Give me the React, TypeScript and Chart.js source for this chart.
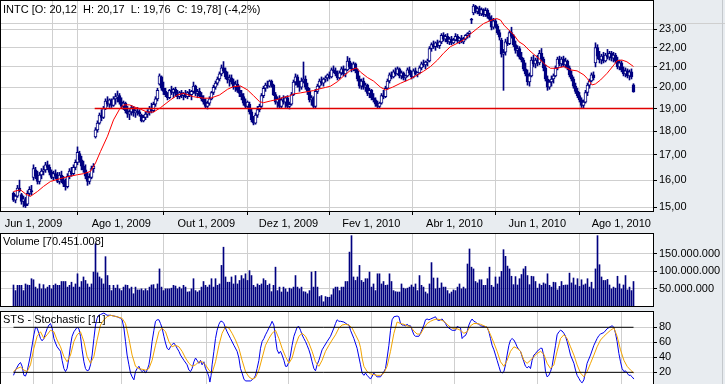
import React, { useEffect, useRef } from "react";
import { Chart, registerables } from "chart.js";

Chart.register(...registerables);

const FONT = '"Liberation Sans", Arial, Helvetica, sans-serif';
const NAVY = "#000080";
const BG = "#E8ECF0";
const GRID = "#CFCFCF";

// ---- axis / category data ----
const monthTickIdx = [10, 53.9, 96.4, 137.5, 178.9, 220.5, 261.9, 303.9];
const monthLabels = ["Jun 1, 2009", "Ago 1, 2009", "Out 1, 2009", "Dez 1, 2009", "Fev 1, 2010", "Abr 1, 2010", "Jun 1, 2010", "Ago 1, 2010"];
const priceTicks = [15, 16, 17, 18, 19, 20, 21, 22, 23];
const volumeTicks = [50000000, 100000000, 150000000];
const stochTicks = [20, 40, 60, 80];

// ---- daily OHLC (bar index 0 = mid May 2009) ----
const opens = [
  15.50,15.25,15.40,15.70,15.45,15.20,15.25,15.10,15.50,15.60,
  16.10,16.40,16.15,15.95,16.20,16.35,16.40,16.60,16.50,16.30,
  16.10,16.25,16.15,15.95,16.20,16.00,15.85,15.75,16.15,16.35,
  16.25,16.50,16.70,17.05,16.80,16.55,16.40,16.15,15.95,16.10,
  16.45,17.75,18.05,18.35,18.70,18.60,19.00,19.35,19.20,19.40,
  19.15,19.45,19.55,19.60,19.30,19.10,19.25,18.90,18.75,18.85,
  19.05,18.80,18.90,18.85,18.70,18.45,18.60,18.75,18.85,19.00,
  18.90,19.20,19.45,20.15,20.50,19.95,19.80,19.65,19.50,19.85,
  19.75,19.90,19.70,19.55,19.75,19.60,19.70,19.55,19.75,19.65,
  19.80,20.05,19.70,19.80,19.60,19.45,19.30,19.10,19.25,19.45,
  19.75,20.00,20.20,20.40,20.65,20.95,20.80,20.50,20.35,20.45,
  20.25,20.00,20.15,19.85,19.70,19.55,19.25,19.10,19.20,18.85,
  18.50,18.35,18.70,18.95,19.10,19.60,19.95,20.10,20.05,20.30,
  20.10,19.65,19.30,19.45,19.10,19.40,19.30,19.50,19.10,19.20,
  19.65,20.25,20.50,20.10,20.00,20.30,20.40,20.00,19.80,19.40,
  19.50,19.10,19.80,20.05,20.30,20.20,20.40,20.45,20.60,20.50,
  20.85,20.80,20.65,20.45,20.70,20.90,20.65,20.85,21.30,21.00,
  20.90,21.15,20.80,20.40,20.05,20.30,20.00,20.10,19.70,19.85,
  19.50,19.40,19.20,19.10,19.25,19.60,19.55,19.95,20.30,20.60,
  20.50,20.75,20.65,20.90,20.55,20.70,20.45,20.55,20.85,20.70,
  20.50,20.80,20.65,20.70,20.95,21.15,21.10,21.25,21.30,21.95,
  22.15,22.05,22.25,22.10,22.30,22.65,22.45,22.60,22.30,22.45,
  22.25,22.40,22.60,22.35,22.50,22.30,22.45,22.65,22.75,23.55,
  23.90,24.30,24.00,24.15,23.85,24.10,23.80,24.05,23.70,23.55,
  23.10,23.45,23.15,22.80,22.40,21.65,21.75,22.30,22.20,22.80,
  22.60,22.15,21.85,21.95,21.50,21.35,20.90,20.65,20.25,20.55,
  21.35,21.15,21.35,21.20,21.70,21.40,20.95,20.40,20.00,20.25,
  20.40,20.55,20.95,21.40,21.15,21.40,21.10,21.30,20.95,20.60,
  20.40,20.05,19.80,19.60,19.40,19.15,19.30,19.75,20.10,20.30,
  20.60,21.20,22.00,21.55,21.35,21.55,21.30,21.60,21.50,21.70,
  21.45,21.60,21.30,21.00,21.20,20.85,20.65,20.80,20.55,20.75,20.12
];
const highs = [
  15.55,15.45,15.80,16.00,15.50,15.40,15.35,15.60,15.75,15.80,
  16.60,16.50,16.35,16.30,16.45,16.55,16.70,16.75,16.60,16.40,
  16.35,16.40,16.30,16.30,16.35,16.15,16.05,16.25,16.45,16.50,
  16.60,16.80,17.33,17.15,16.95,16.75,16.60,16.30,16.25,16.55,
  16.65,18.15,18.45,18.80,18.95,19.10,19.45,19.55,19.45,19.45,
  19.55,19.70,19.82,19.70,19.50,19.35,19.30,19.10,18.95,19.15,
  19.10,18.95,19.05,18.95,18.75,18.70,18.85,18.95,19.10,19.25,
  19.30,19.55,19.95,20.65,20.55,20.25,19.95,19.75,19.90,20.05,
  19.95,20.00,19.85,19.80,19.85,19.75,19.85,19.80,19.90,19.85,
  20.25,20.10,19.90,19.95,19.75,19.60,19.45,19.35,19.55,19.80,
  20.10,20.30,20.50,20.75,21.10,21.27,20.95,20.75,20.60,20.60,
  20.40,20.30,20.35,20.05,19.85,19.70,19.45,19.35,19.30,19.00,
  18.65,18.80,19.10,19.20,19.70,20.05,20.20,20.30,20.35,20.35,
  20.15,19.75,19.55,19.60,19.50,19.60,19.55,19.60,19.30,19.75,
  20.35,20.65,20.60,20.30,20.45,21.25,20.55,20.20,19.95,19.60,
  19.55,19.90,20.15,20.40,20.50,20.45,20.55,20.65,20.75,20.95,
  21.05,20.95,20.80,20.80,21.00,21.05,20.90,21.53,21.45,21.20,
  21.25,21.20,20.90,20.55,20.40,20.45,20.20,20.15,19.95,19.90,
  19.70,19.50,19.35,19.30,19.70,19.85,20.05,20.40,20.70,20.75,
  20.85,20.95,21.00,20.95,20.80,20.75,20.60,20.95,21.00,20.80,
  20.90,20.95,20.75,21.05,21.25,21.35,21.30,21.40,22.05,22.25,
  22.35,22.30,22.40,22.35,22.75,22.80,22.70,22.75,22.55,22.60,
  22.50,22.75,22.70,22.55,22.65,22.55,22.70,22.80,22.90,23.60,
  24.40,24.35,24.25,24.30,24.20,24.15,24.20,24.15,23.90,23.75,
  23.60,23.55,23.25,22.95,22.50,21.90,22.45,22.55,22.90,23.10,
  22.70,22.35,22.10,22.05,21.75,21.45,21.20,20.85,20.70,21.50,
  21.60,21.45,21.60,21.85,21.95,21.50,21.10,20.55,20.35,20.55,
  20.65,21.05,21.50,21.55,21.50,21.55,21.45,21.35,21.05,20.80,
  20.50,20.20,19.95,19.75,19.50,19.40,19.85,20.20,20.40,20.70,
  20.75,22.25,22.15,21.80,21.65,21.75,21.70,21.90,21.80,21.80,
  21.75,21.70,21.50,21.35,21.30,21.00,20.95,20.90,20.85,20.90,20.17
];
const lows = [
  15.20,15.15,15.35,15.55,15.10,15.00,14.98,15.05,15.40,15.45,
  16.00,16.05,15.85,15.85,16.05,16.20,16.30,16.40,16.20,16.05,
  16.00,16.05,15.90,15.85,15.90,15.75,15.62,15.70,16.05,16.15,
  16.20,16.40,16.60,16.70,16.40,16.30,16.05,15.80,15.85,16.05,
  16.30,17.70,17.95,18.30,18.45,18.55,18.95,19.10,19.05,19.05,
  19.10,19.20,19.30,19.20,19.00,18.95,18.80,18.60,18.50,18.70,
  18.65,18.60,18.70,18.65,18.40,18.40,18.50,18.60,18.70,18.80,
  18.85,19.10,19.35,20.10,19.85,19.65,19.55,19.40,19.45,19.65,
  19.50,19.60,19.45,19.45,19.50,19.40,19.50,19.45,19.55,19.40,
  19.70,19.60,19.50,19.55,19.35,19.20,19.00,18.98,19.15,19.40,
  19.65,19.90,20.10,20.30,20.55,20.70,20.40,20.20,20.05,20.15,
  19.90,19.80,19.75,19.55,19.40,19.15,19.02,19.00,18.75,18.40,
  18.27,18.30,18.60,18.85,19.05,19.50,19.80,19.95,20.00,20.00,
  19.60,19.20,19.05,19.00,19.02,19.20,19.05,19.00,18.98,19.15,
  19.60,20.10,20.00,19.80,19.90,20.20,19.90,19.65,19.30,19.15,
  19.00,19.02,19.70,19.95,20.10,20.05,20.25,20.30,20.40,20.45,
  20.70,20.55,20.35,20.40,20.60,20.55,20.50,20.80,20.90,20.75,
  20.80,20.70,20.30,19.95,19.90,19.90,19.80,19.60,19.50,19.40,
  19.30,19.10,19.02,19.00,19.20,19.45,19.50,19.90,20.20,20.40,
  20.45,20.55,20.60,20.45,20.40,20.35,20.30,20.50,20.60,20.40,
  20.45,20.60,20.50,20.65,20.85,21.00,20.90,21.05,21.25,21.80,
  21.95,21.85,22.00,21.95,22.20,22.35,22.30,22.20,22.15,22.15,
  22.20,22.35,22.25,22.20,22.25,22.20,22.40,22.50,22.55,23.30,
  23.80,23.90,23.85,23.75,23.75,23.70,23.70,23.60,23.45,22.95,
  23.00,23.05,22.70,22.40,21.50,19.85,21.60,22.10,22.15,22.50,
  22.05,21.70,21.55,21.40,21.25,20.80,20.55,20.10,20.05,20.50,
  21.00,20.95,21.05,21.10,21.30,20.80,20.30,19.85,19.90,20.05,
  20.20,20.50,20.85,21.05,21.00,21.00,20.95,20.85,20.50,20.30,
  19.95,19.70,19.50,19.30,19.05,19.02,19.25,19.60,19.95,20.25,
  20.35,21.00,21.40,21.20,21.15,21.20,21.25,21.40,21.35,21.30,
  21.25,21.20,20.90,20.85,20.75,20.55,20.50,20.45,20.35,20.40,19.76
];
const closes = [
  15.25,15.40,15.70,15.60,15.20,15.30,15.05,15.50,15.65,15.55,
  16.45,16.15,15.95,16.20,16.35,16.40,16.60,16.50,16.30,16.10,
  16.25,16.15,15.95,16.20,16.00,15.85,15.75,16.15,16.35,16.25,
  16.50,16.70,17.10,16.80,16.55,16.40,16.15,15.95,16.10,16.45,
  16.55,18.05,18.35,18.70,18.60,19.00,19.35,19.20,19.40,19.15,
  19.45,19.55,19.60,19.30,19.10,19.25,18.90,18.75,18.85,19.05,
  18.80,18.90,18.85,18.75,18.45,18.60,18.75,18.85,19.00,18.90,
  19.20,19.45,19.85,20.55,19.95,19.80,19.65,19.50,19.85,19.75,
  19.90,19.70,19.55,19.75,19.60,19.70,19.55,19.75,19.65,19.80,
  20.05,19.70,19.80,19.60,19.45,19.30,19.10,19.25,19.45,19.75,
  20.00,20.20,20.40,20.65,20.95,20.80,20.50,20.35,20.45,20.25,
  20.00,20.15,19.85,19.70,19.55,19.25,19.10,19.30,18.85,18.50,
  18.35,18.70,18.95,19.10,19.60,19.95,20.10,20.05,20.30,20.10,
  19.65,19.30,19.45,19.10,19.40,19.30,19.50,19.10,19.20,19.65,
  20.25,20.50,20.10,20.00,20.30,20.40,20.00,19.80,19.40,19.50,
  19.10,19.80,20.05,20.30,20.20,20.40,20.45,20.60,20.50,20.85,
  20.80,20.65,20.45,20.70,20.90,20.65,20.85,21.30,21.00,20.90,
  21.15,20.80,20.40,20.05,20.30,20.00,20.10,19.70,19.85,19.50,
  19.40,19.20,19.10,19.25,19.60,19.55,19.95,20.30,20.60,20.50,
  20.75,20.65,20.90,20.55,20.70,20.45,20.55,20.85,20.70,20.50,
  20.80,20.65,20.70,20.95,21.15,21.10,21.25,21.30,21.95,22.15,
  22.05,22.25,22.10,22.30,22.65,22.45,22.60,22.30,22.45,22.25,
  22.40,22.60,22.35,22.50,22.30,22.45,22.65,22.75,22.85,23.50,
  24.30,24.00,24.15,23.85,24.10,23.80,24.05,23.70,23.55,23.10,
  23.45,23.15,22.80,22.55,21.65,21.75,22.30,22.20,22.80,22.60,
  22.15,21.85,21.95,21.50,21.35,20.90,20.65,20.25,20.55,21.35,
  21.15,21.35,21.20,21.70,21.40,20.95,20.40,20.00,20.25,20.40,
  20.55,20.95,21.40,21.15,21.40,21.10,21.30,20.95,20.60,20.40,
  20.05,19.80,19.60,19.40,19.15,19.30,19.75,20.10,20.30,20.60,
  20.45,22.00,21.55,21.35,21.55,21.30,21.60,21.50,21.70,21.45,
  21.60,21.30,21.00,21.20,20.85,20.65,20.80,20.55,20.75,20.50,19.78
];

// ---- volume, millions of shares ----
const volumesM = [
  60,44,59,59,59,44,63,60,59,78,
  75,54,49,63,49,61,49,54,59,49,
  59,63,59,59,70,70,70,54,59,68,
  54,63,92,54,70,83,73,63,54,63,
  97,178,95,83,78,63,141,87,59,44,
  59,51,60,49,44,54,60,59,49,54,
  35,54,46,46,49,44,49,44,54,60,
  61,49,63,106,54,44,49,49,49,51,
  59,57,49,54,49,59,54,40,41,49,
  78,44,40,44,54,70,59,54,60,78,
  54,78,59,63,116,168,83,68,68,83,
  63,87,63,73,87,78,92,73,101,87,
  59,54,63,59,63,78,73,59,63,41,
  59,111,44,54,40,54,49,40,51,49,
  54,87,54,49,54,41,40,35,44,97,
  54,99,54,27,30,12,27,25,25,32,
  49,54,54,44,54,54,70,70,154,201,
  83,73,83,116,73,68,78,78,97,54,
  63,44,92,92,63,70,59,60,92,70,
  44,41,40,40,63,51,49,51,54,60,
  54,63,44,87,59,54,40,35,63,124,
  80,49,80,51,66,54,54,44,35,40,
  46,44,54,63,49,54,49,120,163,111,
  106,70,66,75,75,59,59,78,111,59,
  54,83,63,83,99,161,142,114,106,85,
  61,84,60,78,90,106,113,87,61,85,
  84,70,51,63,59,66,63,92,59,54,
  68,67,46,56,70,59,60,60,94,66,
  80,60,78,56,75,60,63,78,54,68,
  49,106,201,118,83,73,73,76,60,49,
  54,51,85,63,49,60,87,46,54,44,70
];

// ---- moving average [bar index, price] ----
const maPoints = [
  [0,15.57],[3.5,15.63],[6,15.48],[8.5,15.39],[12,15.57],[15,15.76],[18.5,15.95],[23,16.05],[27,16.13],[32,16.21],
  [35,16.25],[38.5,16.34],[41,16.67],[43.5,17.14],[47,17.78],[50,18.49],[53,18.97],[55,19.17],[58,19.17],[60,19.09],
  [63.5,18.97],[67,18.84],[70,18.84],[73.5,19.04],[78.5,19.40],[82,19.63],[85,19.71],[90,19.55],[95,19.48],[98.5,19.48],
  [103,19.63],[107,19.90],[110,20.03],[113.5,20.06],[117,19.87],[120,19.60],[123,19.32],[125,19.27],[128.5,19.35],[132,19.42],
  [135,19.52],[138,19.58],[140,19.68],[143.5,19.73],[147,19.79],[150,19.84],[153,19.92],[156,19.99],[158.5,20.05],[162,20.27],
  [165,20.54],[168.5,20.83],[171.5,20.95],[173.5,20.74],[177,20.47],[180,20.30],[183.5,20.00],[186,19.87],[189.5,20.00],[193.5,20.19],
  [198,20.38],[202,20.60],[205,20.78],[208.5,21.02],[212,21.35],[215,21.70],[218.5,22.05],[222,22.23],[225,22.40],[228.5,22.73],
  [232,23.04],[235,23.30],[238,23.45],[241.5,23.59],[243.5,23.50],[245.2,23.22],[247.7,22.94],[250.2,22.67],[252.7,22.31],[255.2,22.14],
  [257.7,21.87],[260.2,21.64],[262.7,21.43],[266,21.10],[268.5,20.93],[271.8,20.93],[275.2,21.02],[278.5,20.85],[281.8,20.80],[285.2,20.60],
  [286.8,20.43],[289.3,20.11],[291,20.16],[293.5,20.35],[296.8,20.68],[300.2,21.10],[301.8,21.31],[304.2,21.35],[306.7,21.26],[310,21.02]
];

// ---- stochastic %K and %D [bar index, value] ----
const stochK = [
  [0,16],[1,23],[2.7,31],[3.5,33],[4.3,28],[5.2,16],[6,15],[6.8,21],[8.5,43],[10.2,70],[11,80],[11.8,79],[12.7,72],[13.5,65],[14.3,62],
  [15.2,65],[16,72],[16.8,78],[17.7,83],[18.5,85],[19.3,79],[20.2,65],[21,59],[21.8,54],[23.5,48],[24.3,36],[25.2,25],[26,21],[26.8,25],
  [27.7,39],[28.5,56],[29.3,68],[30.2,74],[31.8,80],[32.7,78],[33.5,68],[34.3,50],[35.2,34],[36,25],[36.8,22],[37.7,23],[38.5,30],[39.3,43],
  [40.2,65],[41,83],[41.8,92],[42.7,96],[43.5,97],[45.2,99],[46.8,96],[48.5,96],[50.2,95],[51.8,94],[53.5,92],[54.3,90],[55.2,79],[56,61],
  [56.8,43],[57.7,30],[58.5,19],[59.3,14],[60.2,10],[61,21],[61.8,25],[62.7,28],[63.5,23],[64.3,21],[65.2,23],[66,19],[66.8,23],[67.7,30],
  [68.5,43],[69.3,61],[70.2,76],[71,88],[71.8,90],[72.7,90],[73.5,85],[74.3,79],[75.2,68],[76,59],[76.8,52],[77.7,50],[78.5,54],[79.3,57],
  [80.2,59],[81,56],[81.8,52],[82.7,48],[83.5,43],[85.2,36],[86.8,30],[87.7,23],[88.5,21],[89.3,25],[90.2,34],[91,39],[91.8,36],[92.7,32],
  [93.5,36],[94.3,30],[95.2,34],[96,25],[96.8,21],[97.7,14],[98.2,7],[98.8,16],[99.3,30],[100.2,48],[101,65],[101.8,76],[102.7,84],[103.5,88],
  [104.3,88],[105.2,85],[106,79],[106.8,74],[108.5,65],[110.2,56],[111.8,48],[112.7,39],[113.5,25],[114.3,19],[115.2,11],[116,8.5],[118.5,8.5],
  [119.3,10],[120.2,12],[121,16],[121.8,25],[122.7,36],[123.5,52],[124.3,61],[125.2,65],[126,70],[126.8,74],[127.7,79],[128.5,83],[129.3,88],
  [130.2,83],[131,65],[131.8,50],[132.7,45],[133.5,48],[134.3,43],[135.2,36],[136,28],[136.8,28],[137.7,34],[138.5,43],[139.3,56],[140.2,68],
  [141,74],[141.8,80],[142.7,81],[143.5,76],[144.3,70],[145.2,65],[146,61],[146.8,56],[147.7,50],[148.5,43],[149.3,34],[150.2,25],[151,22],
  [151.8,30],[152.7,36],[153.5,43],[154.3,50],[155.2,54],[156.8,61],[158.5,68],[160.2,79],[161,85],[161.8,90],[162.7,88],[163.5,88],[165.2,87],
  [166.8,84],[167.7,83],[168.5,76],[170.2,65],[171.8,52],[173.5,30],[174.3,19],[175.2,16],[176,19],[176.8,16],[178.5,11],[180.2,19],[181,16],
  [181.8,14],[183.5,14],[185.2,21],[186,25],[186.8,39],[187.7,56],[188.5,76],[189.3,90],[190.2,94],[191.8,95],[192.7,94],[193.5,85],[194.3,83],
  [195.2,83],[196,82],[196.8,84],[197.7,82],[198.5,82],[200.2,70],[201,68],[202.7,68],[203.5,72],[205.2,83],[206,90],[206.8,91],[207.7,90],
  [208.5,91],[210.2,93],[211,94],[211.8,90],[212.7,89],[213.5,90],[214.3,91],[215.2,88],[216,85],[216.8,81],[217.7,79],[219.3,76],[221,76],
  [221.8,81],[222.7,80],[223.5,79],[224.3,65],[225.2,68],[226,69],[226.8,74],[227.7,83],[228.5,88],[229.3,91],[230.2,88],[231,87],[231.8,85],
  [232.7,84],[233.5,82],[235.2,81],[236,81],[236.8,80],[237.7,74],[238.5,65],[239.3,56],[240.2,50],[241,43],[241.8,36],[242.7,28],[243.5,21],
  [244.3,19],[245.2,21],[246,30],[246.8,43],[247.7,56],[248.5,63],[249.3,65],[250.2,63],[251,59],[251.8,54],[252.7,50],[253.5,48],[254.3,41],
  [255.2,34],[256,28],[256.8,26],[257.7,28],[258.5,25],[259.3,36],[260.2,43],[261,45],[261.8,48],[262.7,50],[263.5,52],[264.3,52],[265.2,41],
  [266,21],[266.8,14],[267.7,16],[268.5,21],[269.3,28],[270.2,43],[271,56],[271.8,70],[272.7,74],[273.5,76],[274.3,75],[275.2,72],[276,68],
  [276.8,61],[277.7,52],[278.5,43],[280.2,32],[281,23],[281.8,16],[282.7,12],[283.5,8],[284.3,6],[285.2,10],[286,21],[286.8,32],[288.5,43],
  [290.2,56],[291.8,65],[292.7,69],[293.5,71],[295.2,73],[296.8,78],[298.5,81],[299.3,82],[300.2,80],[301,72],[301.8,61],[302.7,45],[303.5,34],
  [304.3,25],[305.2,21],[306,22],[306.8,19],[307.7,16],[308.5,16],[309.3,14],[310.2,11]
];
const stochD = [
  [0,21],[1.8,25],[3.5,27],[5.2,23],[6.8,21],[8.5,30],[10.2,52],[11.8,68],[13.5,74],[15.2,65],[16.8,70],[18.5,76],[20.2,74],[21.8,63],
  [23.5,54],[25.2,41],[26.8,34],[28.5,43],[30.2,61],[31.8,70],[33.5,74],[35.2,61],[36.8,41],[38.5,32],[40.2,41],[41.8,63],[43.5,83],[45.2,90],
  [46.8,94],[48.5,96],[51.8,94],[54.3,92],[56,85],[57.7,65],[59.3,43],[61,28],[62.7,25],[64.3,24],[66,23],[67.7,25],[69.3,36],[71,56],
  [72.7,74],[74.3,79],[76,74],[77.7,61],[79.3,54],[81,56],[82.7,54],[84.3,48],[86,39],[87.7,32],[89.3,28],[91,30],[92.7,34],[94.3,34],
  [96,30],[97.7,23],[99.3,19],[101,34],[102.7,56],[104.3,72],[106,81],[107.7,79],[109.3,72],[111,63],[112.7,52],[114.3,36],[116,21],[117.7,14],
  [119.3,11],[121,13],[122.7,23],[124.3,39],[126,56],[127.7,65],[129.3,72],[131,76],[132.7,65],[134.3,52],[136,41],[137.7,32],[139.3,39],
  [141,56],[142.7,68],[144.3,72],[146,68],[147.7,59],[149.3,48],[151,34],[152.7,28],[154.3,36],[156,48],[157.7,56],[159.3,63],[161,70],
  [162.7,79],[164.3,83],[166,84],[167.7,83],[169.3,79],[171,70],[172.7,61],[173.5,53],[174.3,39],[175.2,28],[176.8,21],[178.5,18],[180.2,17],
  [181.8,16],[183.5,16],[185.2,19],[186.8,28],[188.5,48],[190.2,72],[191.8,87],[193.5,85],[195.2,84],[196.8,82],[198.5,81],[200.2,75],
  [201.8,71],[203.5,71],[205.2,79],[206.8,85],[208.5,88],[210.2,90],[211.8,91],[213.5,90],[215.2,88],[216.8,84],[218.5,80],[220.2,78],
  [221.8,78],[223.5,76],[225.2,72],[226.8,74],[228.5,82],[230.2,85],[231.8,85],[233.5,84],[235.2,82],[236.8,80],[238.5,70],[240.2,59],
  [241.8,48],[243.5,34],[245.2,28],[246.8,36],[248.5,48],[250.2,54],[251.8,52],[253.5,48],[255.2,36],[256.8,32],[258.5,36],[260.2,41],
  [261.8,45],[263.5,48],[265.2,44],[266.8,32],[268.5,25],[270.2,30],[271.8,48],[273.5,65],[275.2,70],[276.8,65],[278.5,54],[280.2,43],
  [281.8,30],[283.5,19],[285.2,14],[286.8,21],[288.5,32],[290.2,43],[291.8,54],[293.5,63],[295.2,68],[296.8,72],[298.5,76],[300.2,79],
  [301.8,68],[303.5,50],[305.2,36],[306.8,28],[308.5,23],[310.2,19]
];

const supportLevel = 19;
const supportStartIdx = 40.6;
const stochUpper = 80;
const stochLower = 20;
const crosshairIdx = 19;
const crosshairPrice = 23.33;

const titleMain = "INTC [O: 20,12  H: 20,17  L: 19,76  C: 19,78] (-4,2%)";
const titleVolume = "Volume [70.451.008]";
const titleStoch = "STS - Stochastic [11]";

// ---- layout constants ----
const X_MIN = -6.25;
const X_MAX = 319.75;
const AXIS_W = 72;

Chart.defaults.font.family = FONT;
Chart.defaults.font.size = 11;
Chart.defaults.color = "#000";

const fmtDots = (v: number) => String(Math.round(v)).replace(/\B(?=(\d{3})+(?!\d))/g, ".");

function panelPlugin(drawH: boolean) {
  return {
    id: "panel" + (drawH ? "H" : ""),
    beforeDraw(chart: any) {
      const { ctx, chartArea: a } = chart;
      ctx.save();
      ctx.fillStyle = "#FFFFFF";
      ctx.fillRect(a.left, a.top, a.right - a.left, a.bottom - a.top);
      ctx.restore();
    },
    beforeDatasetsDraw(chart: any) {
      const { ctx, chartArea: a } = chart;
      const x = Math.round(chart.scales.x.getPixelForValue(crosshairIdx)) + 0.5;
      ctx.save();
      ctx.strokeStyle = GRID;
      ctx.lineWidth = 1;
      ctx.beginPath();
      ctx.moveTo(x, a.top);
      ctx.lineTo(x, a.bottom);
      if (drawH) {
        const y = Math.round(chart.scales.y.getPixelForValue(crosshairPrice)) + 0.5;
        ctx.moveTo(0, y);
        ctx.lineTo(chart.width, y);
      }
      ctx.stroke();
      ctx.restore();
    },
    afterDraw(chart: any) {
      const { ctx, chartArea: a } = chart;
      ctx.save();
      ctx.strokeStyle = "#000";
      ctx.lineWidth = 1;
      ctx.strokeRect(a.left - 0.5, a.top + 0.5, a.right - a.left + 1, a.bottom - a.top);
      ctx.restore();
    },
  };
}

function xAxis(showLabels: boolean) {
  return {
    type: "linear",
    min: X_MIN,
    max: X_MAX,
    offset: false,
    bounds: "data",
    grid: {
      color: GRID,
      lineWidth: 1,
      drawTicks: showLabels,
      tickLength: 4,
      tickColor: "#000",
    },
    border: { display: false },
    ticks: {
      display: showLabels,
      autoSkip: false,
      maxRotation: 0,
      padding: 2,
      callback: (_v: any, i: number) => monthLabels[i] ?? "",
    },
    afterBuildTicks: (s: any) => {
      s.ticks = monthTickIdx.map((v) => ({ value: v }));
    },
    afterFit: (s: any) => {
      s.height = showLabels ? 22 : 0;
      s.paddingLeft = 0;
      s.paddingRight = 0;
    },
  };
}

function yAxis(extra: any, ticks: number[], fmt: (v: number) => string) {
  return {
    position: "right",
    bounds: "data",
    grid: { color: GRID, lineWidth: 1, tickLength: 4, tickColor: "#000" },
    border: { display: false },
    ticks: { padding: 2, autoSkip: false, callback: (v: any) => fmt(Number(v)) },
    afterBuildTicks: (s: any) => {
      s.ticks = ticks.map((v) => ({ value: v }));
    },
    afterFit: (s: any) => {
      s.width = AXIS_W;
      s.paddingTop = 0;
      s.paddingBottom = 0;
    },
    ...extra,
  };
}

const commonOptions = {
  animation: false,
  responsive: false,
  events: [],
  plugins: { legend: { display: false }, tooltip: { enabled: false } },
};

function mainConfig(): any {
  const idx = closes.map((_, i) => i);
  return {
    type: "bar",
    data: {
      datasets: [
        {
          type: "line",
          data: maPoints.map(([x, y]) => ({ x, y })),
          borderColor: "#FF0000",
          borderWidth: 1,
          pointRadius: 0,
          order: 0,
        },
        {
          type: "line",
          data: [
            { x: supportStartIdx, y: supportLevel },
            { x: X_MAX, y: supportLevel },
          ],
          borderColor: "#E00000",
          borderWidth: 1.5,
          pointRadius: 0,
          order: 1,
        },
        {
          type: "bar",
          data: idx.map((i) => ({ x: i, y: [Math.min(opens[i], closes[i]), Math.max(opens[i], closes[i])] })),
          backgroundColor: idx.map((i) => (closes[i] >= opens[i] ? "#FFFFFF" : NAVY)),
          borderColor: NAVY,
          borderWidth: 1,
          borderSkipped: false,
          barThickness: 3,
          grouped: false,
          order: 2,
        },
        {
          type: "bar",
          data: idx.map((i) => ({ x: i, y: [lows[i], highs[i]] })),
          backgroundColor: NAVY,
          borderWidth: 0,
          barThickness: 1,
          grouped: false,
          order: 3,
        },
      ],
    },
    options: {
      ...commonOptions,
      layout: { padding: { left: 1, top: 0, right: 0, bottom: 0 }, autoPadding: false },
      scales: {
        x: xAxis(true),
        y: yAxis({ type: "logarithmic", min: 14.857, max: 24.66 }, priceTicks, (v) => v.toFixed(2).replace(".", ",")),
      },
    },
    plugins: [panelPlugin(true)],
  };
}

function volumeConfig(): any {
  return {
    type: "bar",
    data: {
      datasets: [
        {
          data: volumesM.map((v, i) => ({ x: i, y: v * 1000000 })),
          backgroundColor: NAVY,
          borderWidth: 0,
          barThickness: 1,
        },
      ],
    },
    options: {
      ...commonOptions,
      layout: { padding: { left: 1, top: 0, right: 0, bottom: 5 }, autoPadding: false },
      scales: {
        x: xAxis(false),
        y: yAxis({ type: "linear", min: 0, max: 208600000 }, volumeTicks, fmtDots),
      },
    },
    plugins: [panelPlugin(false)],
  };
}

function stochConfig(): any {
  const line = (pts: number[][], color: string, order: number) => ({
    data: pts.map(([x, y]) => ({ x, y })),
    borderColor: color,
    borderWidth: 1,
    pointRadius: 0,
    order,
  });
  const lastIdx = closes.length - 1;
  return {
    type: "line",
    data: {
      datasets: [
        line([[0, stochUpper], [lastIdx, stochUpper]], "#000000", 0),
        line([[0, stochLower], [lastIdx, stochLower]], "#000000", 0),
        line(stochD, "#F2A400", 1),
        line(stochK, "#0000EE", 2),
      ],
    },
    options: {
      ...commonOptions,
      layout: { padding: { left: 1, top: 0, right: 0, bottom: 0 }, autoPadding: false },
      scales: {
        x: xAxis(false),
        y: yAxis({ type: "linear", min: -4.9, max: 101.7 }, stochTicks, (v) => String(v)),
      },
    },
    plugins: [panelPlugin(false)],
  };
}

const titleStyle: any = {
  position: "absolute",
  left: 3,
  font: `11px ${FONT}`,
  lineHeight: "13px",
  whiteSpace: "pre",
  color: "#000",
  pointerEvents: "none",
};

export default function App() {
  const mainRef = useRef<HTMLCanvasElement>(null);
  const volRef = useRef<HTMLCanvasElement>(null);
  const stoRef = useRef<HTMLCanvasElement>(null);

  useEffect(() => {
    const charts = [
      new Chart(mainRef.current as HTMLCanvasElement, mainConfig()),
      new Chart(volRef.current as HTMLCanvasElement, volumeConfig()),
      new Chart(stoRef.current as HTMLCanvasElement, stochConfig()),
    ];
    return () => charts.forEach((c) => c.destroy());
  }, []);

  return (
    <div style={{ position: "fixed", left: 0, top: 0, width: 725, height: 384, background: BG, overflow: "hidden" }}>
      <canvas ref={mainRef} width={725} height={233} style={{ position: "absolute", left: 0, top: 0, display: "block" }} />
      <canvas ref={volRef} width={725} height={78} style={{ position: "absolute", left: 0, top: 233, display: "block" }} />
      <canvas ref={stoRef} width={725} height={80} style={{ position: "absolute", left: 0, top: 311, display: "block" }} />
      <div style={{ position: "absolute", left: 722, top: 0, width: 1, height: 384, background: "#C4C8CC" }} />
      <div style={{ ...titleStyle, top: 3 }}>{titleMain}</div>
      <div style={{ ...titleStyle, top: 235 }}>{titleVolume}</div>
      <div style={{ ...titleStyle, top: 313 }}>{titleStoch}</div>
    </div>
  );
}
